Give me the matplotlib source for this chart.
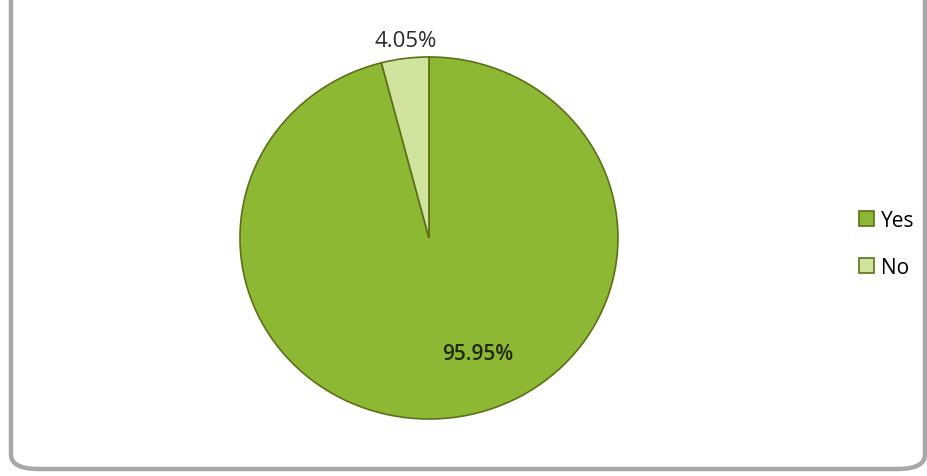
import matplotlib.pyplot as plt
from matplotlib.patches import FancyBboxPatch

# data
labels = ['Yes', 'No']
shares = [95.95, 4.05]
colors = ['#8db833', '#d0e49e']

plt.rcParams['font.family'] = ['Open Sans', 'DejaVu Sans']

fig = plt.figure(figsize=(9.28, 4.77), dpi=100)
fig.patch.set_facecolor('white')

# rounded frame, top edge runs off the picture
frame = FancyBboxPatch((11 / 928, 7 / 477), 914 / 928, 500 / 477,
                       boxstyle='round,pad=0,rounding_size=0.03',
                       transform=fig.transFigure, facecolor='none',
                       edgecolor='#a8a8a8', linewidth=3.2, zorder=-1)
fig.patches.append(frame)

ax = fig.add_axes([0.2586, 0.1195, 0.4073, 0.759])
wedges, texts, autotexts = ax.pie(shares, colors=colors, startangle=90,
                                  counterclock=False, autopct='%.2f%%',
                                  pctdistance=0.7,
                                  wedgeprops=dict(edgecolor='#5d7019', linewidth=1.2))
ax.set_aspect('auto')
ax.set_xlim(-1, 1)
ax.set_ylim(-1, 1)

# label placement as in the reference
autotexts[0].set_position((0.26, -0.64))
autotexts[0].set_color('#1f290a')
autotexts[0].set_fontsize(15)
autotexts[0].set_fontweight('semibold')
autotexts[1].set_position((-0.125, 1.09))
autotexts[1].set_color('#2a2a2a')
autotexts[1].set_fontsize(16)
for t in autotexts:
    t.set_clip_on(False)

fig.legend(wedges, labels, loc='center left', bbox_to_anchor=(0.905, 0.487),
           frameon=False, fontsize=15, handlelength=0.72, handleheight=0.72,
           handletextpad=0.34, labelspacing=1.25)

fig.savefig('out.png', dpi=100)
